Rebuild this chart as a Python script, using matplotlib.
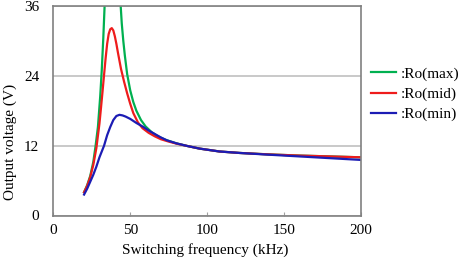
import matplotlib
matplotlib.use("Agg")
import matplotlib.pyplot as plt

plt.rcParams['font.family'] = ['Liberation Serif', 'DejaVu Serif']

# ---- data ----
f_max = [20, 22, 24, 26, 27.5, 29, 30.5, 31.5, 32.5, 33.5, 35, 38.5, 42.5,
         43.8, 44.5, 45.5, 46.5, 48, 50, 52, 54, 57, 60, 64, 68, 73, 80,
         87, 95, 108, 121, 140, 160, 180, 200]
v_max = [4.0, 5.2, 6.8, 9.2, 12.0, 15.2, 20.5, 25.0, 30.5, 37.0, 55.0, 90.0, 45.0,
         36.0, 33.0, 30.0, 27.5, 24.3, 21.5, 19.5, 18.0, 16.4, 15.3, 14.3, 13.6, 13.0, 12.4,
         11.95, 11.5, 11.0, 10.75, 10.5, 10.3, 10.15, 10.0]

f_mid = [20, 22, 24, 26, 28, 30, 31, 32, 33, 34, 35, 36, 37, 38, 39, 40,
         41, 42, 43, 44, 45, 46, 48, 50, 52, 55, 58, 62, 66, 70, 75, 80,
         87, 95, 108, 121, 140, 160, 180, 200]
v_mid = [4.0, 5.1, 6.6, 8.7, 11.6, 15.8, 18.5, 21.3, 24.2, 27.0, 29.5, 31.2, 32.0, 32.2, 31.8, 30.8,
         29.5, 28.0, 26.6, 25.2, 24.1, 23.0, 21.0, 19.2, 17.6, 16.0, 15.0, 14.2, 13.6, 13.1, 12.7, 12.35,
         11.95, 11.5, 11.0, 10.75, 10.5, 10.3, 10.15, 10.0]

f_min = [20, 22, 24, 26, 28, 30, 33, 35, 37, 39, 41, 43, 45, 47, 50, 54,
         58, 62, 66, 70, 74, 80, 87, 95, 108, 121, 140, 160, 180, 200]
v_min = [3.6, 4.6, 5.8, 7.0, 8.4, 10.0, 12.0, 13.8, 15.2, 16.4, 17.1, 17.3, 17.2, 17.0, 16.6, 15.9,
         15.3, 14.6, 14.0, 13.4, 12.9, 12.4, 11.95, 11.5, 11.0, 10.75, 10.45, 10.15, 9.85, 9.55]

labels = [':Ro(max)', ':Ro(mid)', ':Ro(min)']
colors = ['#00b050', '#ee1c1c', '#1c1cb4']
x_ticks = [0, 50, 100, 150, 200]
y_ticks = [0, 12, 24, 36]

fig = plt.figure(figsize=(4.61, 2.62), dpi=100)
ax = fig.add_axes([53.3/461, 1-215.5/262, (361-53.3)/461, (215.5-6)/262])

for fx, vy, lab, c in zip([f_max, f_mid, f_min], [v_max, v_mid, v_min], labels, colors):
    ax.plot(fx, vy, color=c, lw=1.6, label=lab, solid_joinstyle='round')

ax.set_xlim(0, 200)
ax.set_ylim(0, 36)
ax.set_xticks(x_ticks)
ax.set_yticks(y_ticks)
ax.yaxis.grid(True, color='#c0c0c0', lw=1.2)
ax.set_axisbelow(True)
for s in ax.spines.values():
    s.set_color('#808080')
    s.set_linewidth(1.2)
ax.tick_params(axis='x', direction='in', length=3, color='#a0a0a0', labelsize=11, pad=6)
ax.tick_params(axis='y', length=0, labelsize=11, pad=10)

ax.set_xlabel('Switching frequency (kHz)', fontsize=11)
ax.set_ylabel('Output voltage (V)', fontsize=11)
ax.xaxis.set_label_coords(0.495, -0.165)
ax.xaxis.label.set_va('center')
ax.yaxis.set_label_coords(-0.14, 0.351)
ax.yaxis.label.set_va('center')

fig.legend(loc='upper left', bbox_to_anchor=(371/461, 1-67/262), frameon=False,
           fontsize=11, handlelength=1.65, handletextpad=0.3, labelspacing=0.42,
           borderaxespad=0, borderpad=0)

fig.savefig('out.png', dpi=100)
